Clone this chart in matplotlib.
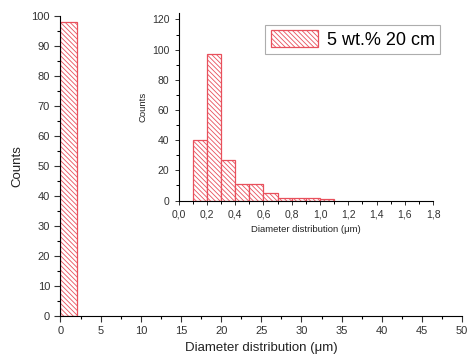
import matplotlib
matplotlib.use("Agg")
import matplotlib.pyplot as plt
from matplotlib.ticker import MultipleLocator, FuncFormatter

plt.rcParams['font.family'] = ['Liberation Sans', 'DejaVu Sans']
plt.rcParams['hatch.color'] = '#f2a0a5'
plt.rcParams['hatch.linewidth'] = 0.6

# main histogram (um)
main_left = [0]
main_width = 2
main_counts = [98]

# inset histogram (um)
inset_left = [0.1, 0.2, 0.3, 0.4, 0.5, 0.6, 0.7, 0.8, 0.9, 1.0]
inset_width = 0.1
inset_counts = [40, 97, 27, 11, 11, 5, 2, 2, 2, 1]

label = "5 wt.% 20 cm"
edge = '#e8505c'
hatch = '\\' * 7

fig = plt.figure(figsize=(4.76, 3.62), dpi=100)
ax = fig.add_axes([0.127, 0.128, 0.844, 0.828])
ax.bar(main_left, main_counts, width=main_width, align='edge', color='white',
       edgecolor=edge, hatch=hatch, linewidth=0.9)
ax.set_xlim(0, 50)
ax.set_ylim(0, 100)
ax.xaxis.set_major_locator(MultipleLocator(5))
ax.xaxis.set_minor_locator(MultipleLocator(2.5))
ax.yaxis.set_major_locator(MultipleLocator(10))
ax.yaxis.set_minor_locator(MultipleLocator(5))
for s in ['top', 'right']:
    ax.spines[s].set_visible(False)
ax.tick_params(labelsize=8, length=4, width=0.8, color='#333333', labelcolor='#333333')
ax.tick_params(which='minor', length=2.5, width=0.8)
ax.set_xlabel('Diameter distribution (μm)', fontsize=9.5, color='#222222', labelpad=4)
ax.set_ylabel('Counts', fontsize=9.5, color='#222222', labelpad=6)

ins = fig.add_axes([0.375, 0.446, 0.535, 0.517])
bars = ins.bar(inset_left, inset_counts, width=inset_width, align='edge', color='white',
               edgecolor=edge, hatch=hatch, linewidth=0.9, label=label)
ins.set_xlim(0, 1.8)
ins.set_ylim(0, 124)
ins.xaxis.set_major_locator(MultipleLocator(0.2))
ins.xaxis.set_minor_locator(MultipleLocator(0.1))
ins.yaxis.set_major_locator(MultipleLocator(20))
ins.yaxis.set_minor_locator(MultipleLocator(10))
ins.xaxis.set_major_formatter(FuncFormatter(lambda v, p: ('%.1f' % v).replace('.', ',')))
for s in ['top', 'right']:
    ins.spines[s].set_visible(False)
ins.tick_params(labelsize=7.5, length=3, width=0.7, color='#333333', labelcolor='#333333')
ins.tick_params(which='minor', length=2, width=0.7)
ins.set_xlabel('Diameter distribution (μm)', fontsize=6.8, color='#222222', labelpad=4)
ins.set_ylabel('Counts', fontsize=6.8, color='#222222', labelpad=3)

leg = fig.legend(handles=[bars], loc='upper right', bbox_to_anchor=(0.925, 0.931),
                 borderaxespad=0, fontsize=13, frameon=True, fancybox=False,
                 edgecolor='#999999', handlelength=2.6, handleheight=1.0,
                 borderpad=0.3, handletextpad=0.5)
leg.get_frame().set_linewidth(0.8)

fig.savefig('out.png', dpi=100)
